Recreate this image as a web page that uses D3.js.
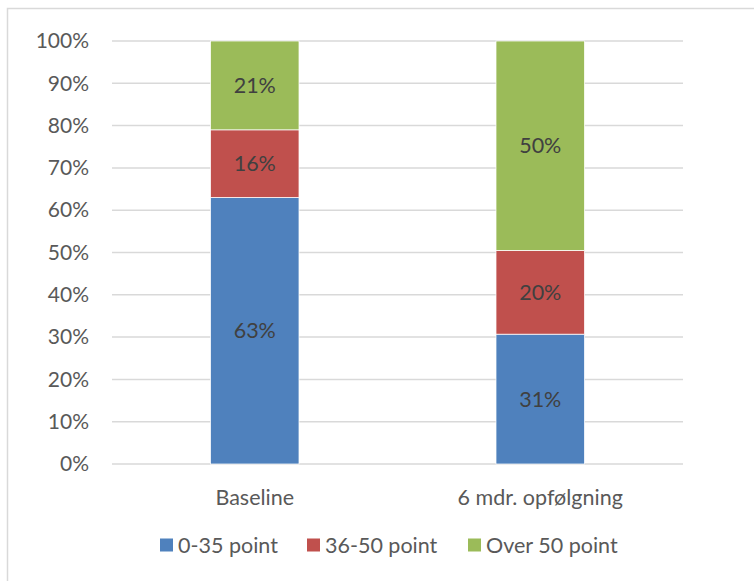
<!DOCTYPE html>
<html>
<head>
<meta charset="utf-8">
<script src="https://cdn.jsdelivr.net/npm/d3@7"></script>
<style>
  html, body { margin: 0; padding: 0; background: #fff; }
  svg { display: block; font-family: Lato, "Open Sans", sans-serif; }
</style>
</head>
<body>
<svg id="chart" width="754" height="581"></svg>
<script>
// Share of participants by score group, per time point
const categories = ["Baseline", "6 mdr. opfølgning"];
const seriesNames = ["0-35 point", "36-50 point", "Over 50 point"];
const seriesColors = ["#4f81bd", "#c0504d", "#9bbb59"];
const low = [63, 31];     // 0-35 point
const mid = [16, 20];     // 36-50 point
const high = [21, 50];    // Over 50 point
const tickValues = [0, 0.1, 0.2, 0.3, 0.4, 0.5, 0.6, 0.7, 0.8, 0.9, 1];

const series = [low, mid, high];
const rows = categories.map((c, i) => {
  const row = { category: c };
  seriesNames.forEach((s, j) => row[s] = series[j][i]);
  return row;
});

const svg = d3.select("#chart");

// outer chart frame
svg.append("rect")
  .attr("x", 7.5).attr("y", 8.5)
  .attr("width", 760).attr("height", 590)
  .attr("fill", "none").attr("stroke", "#d9d9d9").attr("stroke-width", 1.5);

const plot = { left: 112, right: 683, top: 41, bottom: 464 };

const x = d3.scaleBand()
  .domain(categories)
  .range([plot.left, plot.right])
  .paddingInner(0.69)
  .paddingOuter(0.345);

const y = d3.scaleLinear().domain([0, 1]).range([plot.bottom, plot.top]);

// 100% stacked layout
const stacked = d3.stack().keys(seriesNames).offset(d3.stackOffsetExpand)(rows);

// gridlines
svg.append("g")
  .selectAll("line")
  .data(tickValues)
  .join("line")
  .attr("x1", plot.left).attr("x2", plot.right)
  .attr("y1", d => y(d)).attr("y2", d => y(d))
  .attr("stroke", "#d9d9d9").attr("stroke-width", 1.5);

// y axis labels
const yAxis = d3.axisLeft(y).tickValues(tickValues).tickFormat(d3.format(".0%")).tickSize(0).tickPadding(0);
const yg = svg.append("g").attr("transform", `translate(89,0)`).call(yAxis);
yg.select(".domain").remove();
yg.selectAll("text").attr("font-size", 21).attr("fill", "#595959").attr("font-family", "Lato, sans-serif");

// bars
const layers = svg.append("g")
  .selectAll("g")
  .data(stacked)
  .join("g")
  .attr("fill", (d, i) => seriesColors[i]);

layers.selectAll("rect")
  .data(d => d)
  .join("rect")
  .attr("x", d => x(d.data.category))
  .attr("width", x.bandwidth())
  .attr("y", d => y(d[1]))
  .attr("height", d => y(d[0]) - y(d[1]))
  .attr("stroke", "#fff").attr("stroke-width", 0.75);

// value labels
layers.selectAll("text")
  .data((d, i) => d.map(v => ({ v, value: v.data[seriesNames[i]] })))
  .join("text")
  .attr("x", d => x(d.v.data.category) + x.bandwidth() / 2)
  .attr("y", d => (y(d.v[0]) + y(d.v[1])) / 2)
  .attr("dy", "0.35em")
  .attr("text-anchor", "middle")
  .attr("font-size", 21.5)
  .attr("fill", "#404040")
  .text(d => d.value + "%");

// category axis
const xAxis = d3.axisBottom(x).tickSize(0).tickPadding(0);
const xg = svg.append("g").attr("transform", `translate(0,${plot.bottom + 33})`).call(xAxis);
xg.select(".domain").remove();
xg.selectAll("text").attr("font-size", 21.5).attr("fill", "#595959").attr("font-family", "Lato, sans-serif").attr("dy", "0.35em");

// legend
const legendX = [160, 307, 468];
const legend = svg.append("g")
  .selectAll("g")
  .data(seriesNames)
  .join("g")
  .attr("transform", (d, i) => `translate(${legendX[i]},545)`);
legend.append("rect")
  .attr("x", 0).attr("y", -6.5).attr("width", 13).attr("height", 13)
  .attr("fill", (d, i) => seriesColors[i]);
legend.append("text")
  .attr("x", 18).attr("dy", "0.35em")
  .attr("font-size", 21.5).attr("fill", "#595959")
  .text(d => d);
</script>
</body>
</html>
